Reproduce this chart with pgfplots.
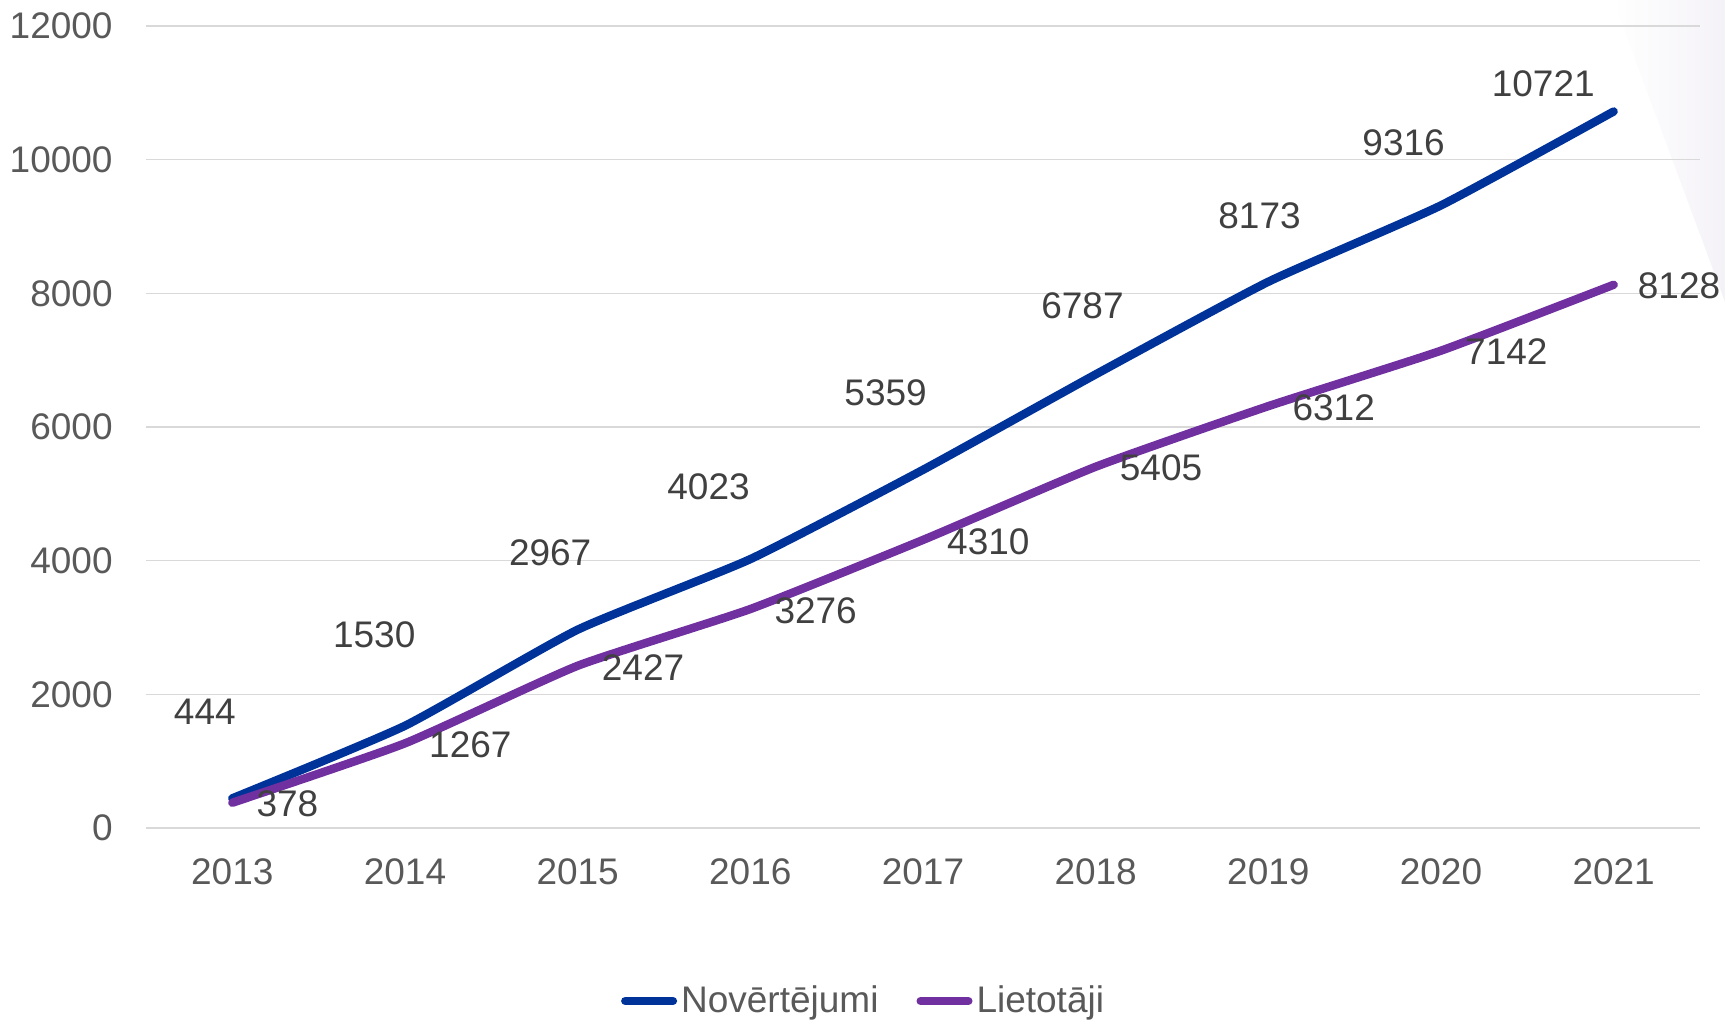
\documentclass[border=0pt]{standalone}
\usepackage{fontspec}
\setmainfont{Liberation Sans}
\usepackage{pgfplots}
\usepackage{pgfplotstable}
\pgfplotsset{compat=1.18}
\definecolor{cblue}{RGB}{0,51,153}
\definecolor{cpurple}{RGB}{112,48,160}
\definecolor{ctick}{RGB}{89,89,89}
\definecolor{clab}{RGB}{64,64,64}
\definecolor{cgrid}{RGB}{217,217,217}
\definecolor{cbg}{RGB}{244,242,247}
\pgfplotstableread{
x y dx dy lab
0 444 -13.75 43.5 444
1 1530 -15.4 45.6 1530
2 2967 -13.75 38.5 2967
3 4023 -20.9 36.3 4023
4 5359 -18.7 38.5 5359
5 6787 -6.6 34.1 6787
6 8173 -4.4 33 8173
7 9316 -18.7 31.4 9316
8 10721 -35.2 13.8 10721
}\novtable
\pgfplotstableread{
x y lab
0 378 378
1 1267 1267
2 2427 2427
3 3276 3276
4 4310 4310
5 5405 5405
6 6312 6312
7 7142 7142
8 8128 8128
}\lietable
\newcommand{\fs}{\fontsize{18.5}{22}\selectfont}
\begin{document}
\begin{tikzpicture}
\path[use as bounding box] (0,0) rectangle (862.5pt,511pt);
\shade[left color=white, right color=cbg] (806.5pt,511pt) -- (862.5pt,511pt) -- (862.5pt,360pt) -- cycle;
\begin{axis}[
  at={(73pt,97pt)}, anchor=south west,
  scale only axis, width=777pt, height=401pt,
  xmin=-0.5, xmax=8.5, ymin=0, ymax=12000,
  xtick={0,...,8},
  xticklabels={2013,2014,2015,2016,2017,2018,2019,2020,2021},
  ytick={0,2000,...,12000},
  scaled y ticks=false,
  axis line style={draw=none},
  major tick length=0pt,
  ymajorgrids, grid style={cgrid, line width=0.7pt},
  /pgf/number format/assume math mode=true,
  /pgf/number format/1000 sep={},
  ticklabel style={font=\fs, text=ctick, inner sep=0pt},
  yticklabel style={anchor=east, xshift=-16.5pt},
  xticklabel style={anchor=center, yshift=-22pt},
  clip=false,
  legend columns=2,
  legend style={draw=none, fill=none, font=\fs, text=ctick,
    at={(axis description cs:0.4624,-0.2157)}, anchor=center,
    /tikz/every even column/.append style={column sep=17pt},
    nodes={inner xsep=2pt, inner ysep=0pt}},
  legend image code/.code={\draw[#1, line width=4pt, line cap=round] (0pt,0pt) -- (24pt,0pt);},
  nodes near coords={\pgfplotspointmeta},
  point meta=explicit symbolic,
]
\addplot[cblue, line width=4.2pt, line cap=round, line join=round, smooth, tension=0.3,
  visualization depends on={\thisrow{dx}\as\dx},
  visualization depends on={\thisrow{dy}\as\dy},
  every node near coord/.append style={anchor=center, inner sep=0pt, xshift=\dx pt, yshift=\dy pt, font=\fs, text=clab}]
  table[x=x, y=y, meta=lab]{\novtable};
\addlegendentry{Novērtējumi}
\addplot[cpurple, line width=4.2pt, line cap=round, line join=round, smooth, tension=0.3,
  every node near coord/.append style={anchor=west, inner sep=0pt, xshift=10pt, yshift=-0.7pt, font=\fs, text=clab}]
  table[x=x, y=y, meta=lab]{\lietable};
\addlegendentry{Lietotāji}
\end{axis}
\end{tikzpicture}
\end{document}
